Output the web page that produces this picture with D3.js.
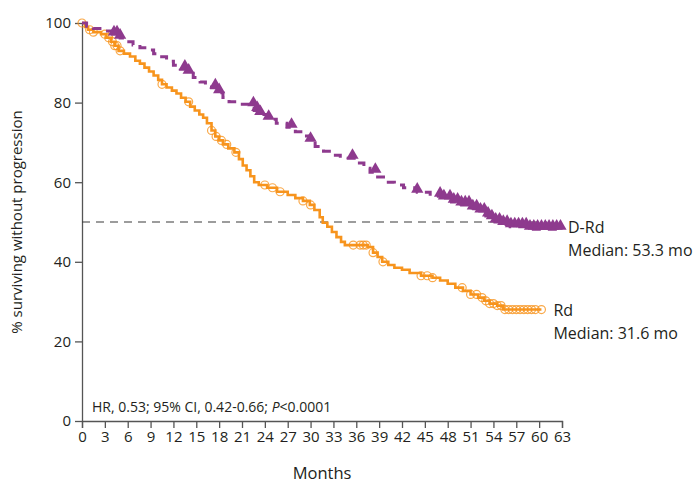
<!DOCTYPE html>
<html lang="en">
<head>
  <meta charset="UTF-8">
  <title>PFS D-Rd vs Rd</title>
  <style>
    body { margin: 0; background: #fff; }
    text { font-family: "Open Sans", sans-serif; fill: #231f20; }
    .axis path, .axis line { stroke: #555; stroke-width: 1.3px; }
    .axis text { font-size: 15px; fill: #231f20; }
  </style>
</head>
<body>
  <div id="chart"></div>
  <script src="https://cdn.jsdelivr.net/npm/d3@7/dist/d3.min.js"></script>
  <script>
    // Rd arm: [month, % progression-free]
    const rdTimes = [0, 0.4, 0.8, 1.5, 2.5, 3.2, 3.8, 4.3, 4.8, 5.5, 6.3, 7, 7.6, 8.2, 8.8, 9.4, 10, 10.5, 11.1, 11.8,
      12.4, 13, 13.6, 14.2, 14.8, 15.4, 15.9, 16.4, 17, 17.5, 18, 18.5, 19.2, 20, 20.6, 21.1, 21.6, 22.1, 22.6, 23.2,
      24.3, 25.6, 27, 28, 29, 29.9, 30.5, 31.2, 31.6, 32.2, 32.8, 33.4, 34, 34.5, 37.5, 38.2, 38.8, 39.4, 40.2, 41,
      42, 43, 44.5, 46, 47, 48, 49, 50, 51, 52, 52.8, 53.5, 54.5, 55.3, 60.3];
    const rdSurv = [100, 99, 98.3, 97.7, 97.2, 96.3, 95.3, 94.3, 93, 92.3, 91.6, 90.5, 89.8, 88.8, 87.8, 86.8, 85.7, 84.6, 83.8, 83,
      82.3, 81.2, 80.2, 79, 78, 77, 76.2, 74.8, 73, 71.5, 70.5, 69.5, 68.5, 67.5, 65.8, 64.2, 63, 61.5, 60, 59.3,
      58.6, 57.6, 56.8, 56, 55.3, 54.3, 53, 51.2, 49.8, 48.8, 47.5, 46.2, 45, 44.2, 43.7, 42.3, 41.2, 40, 39.2, 38.5,
      38, 37.2, 36.5, 36, 35.3, 34.5, 33.5, 32.7, 31.8, 31, 30.2, 29.5, 29, 28, 28];
    const rdCensor = [0, 1, 1.5, 3, 3.5, 4, 4.3, 4.6, 5, 10.5, 14, 17, 17.6, 18.3, 19, 20.2, 24, 25, 26, 29, 30,
      35.6, 36.5, 36.9, 37.3, 38.2, 39.5, 44.5, 45.3, 46, 49.9, 51, 51.8, 52.5, 53, 53.5, 54, 54.5, 55, 55.5, 56,
      56.5, 57, 57.5, 58, 58.5, 59, 59.5, 60.3];

    // D-Rd arm
    const drdTimes = [0, 0.6, 1.5, 2.8, 4, 5, 5.8, 6.7, 7.6, 8.5, 9.4, 10.2, 11.1, 12, 12.9, 13.8, 14.6, 15.5, 16.2, 17,
      17.7, 18.5, 19.3, 20.7, 22, 22.6, 23.2, 24.3, 25.5, 26.9, 28, 29, 29.8, 30.6, 31.7, 33, 33.9, 36, 37, 37.8,
      38.8, 40, 41, 42.2, 44, 45.7, 47.4, 48.5, 49.6, 51, 52.2, 53, 53.5, 54.2, 54.9, 56.2, 58.4, 63];
    const drdSurv = [100, 99.2, 98.6, 98, 97, 96.2, 95.3, 94.5, 93.8, 93.2, 92.3, 91.5, 90.4, 89.4, 88.4, 87.4, 86.3, 85.2, 84.4, 83.7,
      82.5, 81.3, 80.2, 79.6, 79.2, 78, 77, 75.8, 74.8, 73.8, 72.7, 71.6, 70.3, 69, 67.8, 66.8, 66, 64.8, 63.5, 62.5,
      61.3, 60, 59.3, 58.6, 57.5, 56.5, 55.8, 55, 54.3, 53.3, 52.5, 51.5, 50.8, 50, 49.4, 48.8, 48.2, 48.2];
    const drdCensor = [4.2, 4.6, 5, 13.5, 14, 17.5, 18, 22.5, 23, 23.4, 24.5, 27.5, 30, 35.5, 38.5, 44, 47, 47.5,
      48.3, 48.8, 49.3, 49.8, 50.3, 50.8, 51.3, 51.8, 52.3, 52.8, 53.3, 53.8, 54.3, 54.8, 55.3, 55.8, 56.3, 56.8,
      57.3, 57.8, 58.3, 58.8, 59.3, 59.8, 60.3, 60.8, 61.3, 61.8, 62.3, 62.8];

    const xTicks = d3.range(0, 64, 3);
    const yTicks = [0, 20, 40, 60, 80, 100];

    const orange = "#f7941d";
    const purple = "#8e3a8e";

    const margin = { top: 23, right: 134, bottom: 63, left: 82 };
    const width = 696 - margin.left - margin.right;
    const height = 484 - margin.top - margin.bottom;

    const root = d3.select("#chart").append("svg")
      .attr("width", 696)
      .attr("height", 484);
    const svg = root.append("g")
      .attr("transform", `translate(${margin.left}, ${margin.top})`);

    const x = d3.scaleLinear().domain([0, 63]).range([0, width]);
    const y = d3.scaleLinear().domain([0, 100]).range([height, 0]);

    // axes
    svg.append("g")
      .attr("class", "axis")
      .attr("transform", `translate(0, ${height})`)
      .call(d3.axisBottom(x).tickValues(xTicks).tickSize(7).tickSizeOuter(7).tickPadding(3));
    svg.append("g")
      .attr("class", "axis")
      .call(d3.axisLeft(y).tickValues(yTicks).tickSize(7).tickSizeOuter(0).tickPadding(4));

    // median reference
    svg.append("line")
      .attr("x1", 0).attr("x2", x(61))
      .attr("y1", y(50)).attr("y2", y(50))
      .attr("stroke", "#3a3a3a").attr("stroke-width", 1.2)
      .attr("stroke-dasharray", "8,6");

    const line = d3.line()
      .x(d => x(d[0]))
      .y(d => y(d[1]))
      .curve(d3.curveStepAfter);

    function survAt(times, surv, t) {
      const i = d3.bisectRight(times, t) - 1;
      return surv[Math.max(0, i)];
    }

    // Rd
    svg.append("path")
      .datum(rdTimes.map((t, i) => [t, rdSurv[i]]))
      .attr("d", line)
      .attr("fill", "none")
      .attr("stroke", orange)
      .attr("stroke-width", 2.6);
    svg.selectAll(".rd-c")
      .data(rdCensor)
      .enter().append("circle")
      .attr("class", "rd-c")
      .attr("cx", d => x(d))
      .attr("cy", d => y(survAt(rdTimes, rdSurv, d)))
      .attr("r", 4)
      .attr("fill", "none")
      .attr("stroke", orange)
      .attr("stroke-opacity", 0.8)
      .attr("stroke-width", 1.2);

    // D-Rd
    svg.append("path")
      .datum(drdTimes.map((t, i) => [t, drdSurv[i]]))
      .attr("d", line)
      .attr("fill", "none")
      .attr("stroke", purple)
      .attr("stroke-width", 3)
      .attr("stroke-dasharray", "9,7");
    const tri = d3.symbol().type(d3.symbolTriangle).size(65);
    svg.selectAll(".drd-c")
      .data(drdCensor)
      .enter().append("path")
      .attr("class", "drd-c")
      .attr("d", tri)
      .attr("transform", d => `translate(${x(d)}, ${y(survAt(drdTimes, drdSurv, d)) - 3})`)
      .attr("fill", purple);

    // labels
    const lab = svg.append("g").style("font-size", "16px");
    lab.append("text").attr("x", x(63) + 6).attr("y", y(48.2) + 4).text("D-Rd");
    lab.append("text").attr("x", x(63) + 6).attr("y", y(48.2) + 27).text("Median: 53.3 mo");
    lab.append("text").attr("x", x(60.3) + 12).attr("y", y(28) + 6).text("Rd");
    lab.append("text").attr("x", x(60.3) + 12).attr("y", y(28) + 29).text("Median: 31.6 mo");

    const hr = svg.append("text")
      .attr("x", 10).attr("y", height - 9)
      .style("font-size", "14px");
    hr.append("tspan").text("HR, 0.53; 95% CI, 0.42-0.66; ");
    hr.append("tspan").style("font-style", "italic").text("P");
    hr.append("tspan").text("<0.0001");

    svg.append("text")
      .attr("x", width / 2)
      .attr("y", height + 58)
      .attr("text-anchor", "middle")
      .style("font-size", "16.5px")
      .text("Months");

    svg.append("text")
      .attr("transform", `translate(-60, ${y(50)}) rotate(-90)`)
      .attr("text-anchor", "middle")
      .style("font-size", "15px")
      .text("% surviving without progression");
  </script>
</body>
</html>
